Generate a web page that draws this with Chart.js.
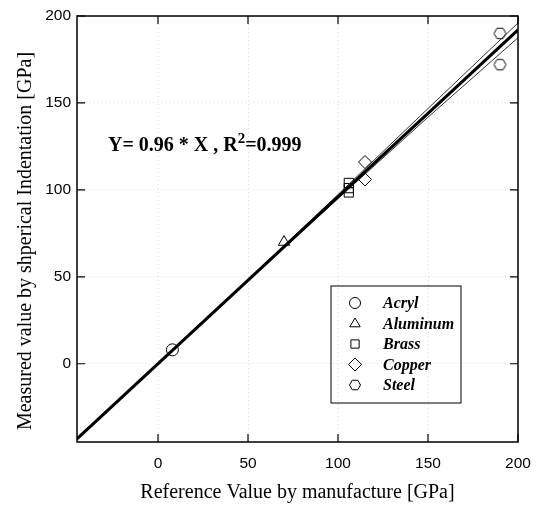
<!DOCTYPE html>
<html>
<head>
<meta charset="utf-8">
<script src="https://cdn.jsdelivr.net/npm/chart.js@4/dist/chart.umd.min.js"></script>
<style>
  html, body { margin: 0; padding: 0; background: #fff; }
</style>
</head>
<body>
<canvas id="chart" width="544" height="506"></canvas>
<script>
// axis setup
const axisMin = -45;
const axisMax = 200;
const xTicks = [0, 50, 100, 150, 200];
const yTicks = [0, 50, 100, 150, 200];

// measured points
const acrylX = [8];
const acrylY = [8];
const aluminumX = [70];
const aluminumY = [70];
const brassX = [106, 106, 106];
const brassY = [104, 101, 98.5];
const copperX = [115, 115];
const copperY = [116, 106];
const steelX = [190, 190];
const steelY = [190, 172];

// fit line and its two bands
const fitX = [-45, 200];
const fitY = [-43.2, 192];
const upperX = [-45, 0, 50, 100, 150, 200];
const upperY = [-43, 0.2, 48.4, 97.3, 146.8, 196];
const lowerX = [-45, 0, 50, 100, 150, 200];
const lowerY = [-43.4, -0.2, 47.6, 95, 141.8, 187.5];

const serif = '"Liberation Serif", "Times New Roman", serif';
const sans = '"Liberation Sans", Arial, sans-serif';

function pts(xs, ys) {
  return xs.map((x, i) => ({ x: x, y: ys[i] }));
}

// hexagon marker drawn onto a tiny canvas
function hexagonImage(r) {
  const c = document.createElement('canvas');
  const size = Math.ceil(r * 2 + 3);
  c.width = size;
  c.height = size;
  const g = c.getContext('2d');
  g.strokeStyle = '#000';
  g.lineWidth = 1;
  g.beginPath();
  for (let k = 0; k < 6; k++) {
    const a = Math.PI / 3 * k;
    const px = size / 2 + r * Math.cos(a);
    const py = size / 2 + r * Math.sin(a);
    if (k === 0) g.moveTo(px, py); else g.lineTo(px, py);
  }
  g.closePath();
  g.stroke();
  return c;
}
const hexImg = hexagonImage(6);

function markerSet(label, xs, ys, style, radius) {
  return {
    label: label,
    data: pts(xs, ys),
    pointStyle: style,
    pointRadius: radius,
    pointBorderColor: '#000',
    pointBackgroundColor: 'rgba(0,0,0,0)',
    pointBorderWidth: 1,
    showLine: false,
    isMarker: true
  };
}

function lineSet(label, xs, ys, width, color) {
  return {
    label: label,
    data: pts(xs, ys),
    showLine: true,
    borderColor: color,
    borderWidth: width,
    pointRadius: 0,
    pointHoverRadius: 0,
    isMarker: false
  };
}

// draws one legend marker the same way as on the plot
function drawMarker(ctx, style, x, y, r) {
  ctx.save();
  ctx.strokeStyle = '#000';
  ctx.lineWidth = 1;
  ctx.beginPath();
  if (style === 'circle') {
    ctx.arc(x, y, r, 0, Math.PI * 2);
  } else if (style === 'triangle') {
    ctx.moveTo(x, y - r);
    ctx.lineTo(x + r * 0.95, y + r * 0.6);
    ctx.lineTo(x - r * 0.95, y + r * 0.6);
    ctx.closePath();
  } else if (style === 'rect') {
    ctx.rect(x - r * 0.75, y - r * 0.75, r * 1.5, r * 1.5);
  } else if (style === 'rectRot') {
    ctx.moveTo(x, y - r);
    ctx.lineTo(x + r, y);
    ctx.lineTo(x, y + r);
    ctx.lineTo(x - r, y);
    ctx.closePath();
  } else {
    for (let k = 0; k < 6; k++) {
      const a = Math.PI / 3 * k;
      if (k === 0) ctx.moveTo(x + r * Math.cos(a), y + r * Math.sin(a));
      else ctx.lineTo(x + r * Math.cos(a), y + r * Math.sin(a));
    }
    ctx.closePath();
  }
  ctx.stroke();
  ctx.restore();
}

const framePlugin = {
  id: 'frame',
  afterDraw(chart) {
    const ctx = chart.ctx;
    const a = chart.chartArea;
    const xs = chart.scales.x;
    const ys = chart.scales.y;
    ctx.save();

    // plot frame
    ctx.strokeStyle = '#000';
    ctx.lineWidth = 1.5;
    ctx.strokeRect(a.left, a.top, a.right - a.left, a.bottom - a.top);

    // inward ticks on all four sides
    ctx.lineWidth = 1.2;
    ctx.beginPath();
    xTicks.forEach((v) => {
      const px = xs.getPixelForValue(v);
      ctx.moveTo(px, a.bottom); ctx.lineTo(px, a.bottom - 8);
      ctx.moveTo(px, a.top); ctx.lineTo(px, a.top + 8);
    });
    yTicks.forEach((v) => {
      const py = ys.getPixelForValue(v);
      ctx.moveTo(a.left, py); ctx.lineTo(a.left + 8, py);
      ctx.moveTo(a.right, py); ctx.lineTo(a.right - 8, py);
    });
    ctx.stroke();

    // axis titles
    ctx.fillStyle = '#000';
    ctx.font = '20px ' + serif;
    ctx.textAlign = 'center';
    ctx.textBaseline = 'middle';
    ctx.fillText('Reference Value by manufacture [GPa]', (a.left + a.right) / 2, 493);
    ctx.save();
    ctx.translate(26, 241);
    ctx.rotate(-Math.PI / 2);
    ctx.fillText('Measured value by shperical Indentation [GPa]', 0, 0);
    ctx.restore();

    // fit annotation
    ctx.textAlign = 'left';
    ctx.textBaseline = 'alphabetic';
    ctx.font = 'bold 20px ' + serif;
    let tx = 108;
    const ty = 151;
    const part1 = 'Y= 0.96 * X , R';
    ctx.fillText(part1, tx, ty);
    tx += ctx.measureText(part1).width;
    ctx.font = 'bold 15px ' + serif;
    ctx.fillText('2', tx, ty - 8);
    tx += ctx.measureText('2').width;
    ctx.font = 'bold 20px ' + serif;
    ctx.fillText('=0.999', tx, ty);

    // legend box
    ctx.lineWidth = 1;
    ctx.strokeRect(331, 286, 130, 117);
    ctx.font = 'italic bold 16px ' + serif;
    ctx.textBaseline = 'middle';
    const markers = chart.data.datasets.filter(d => d.isMarker);
    markers.forEach((d, i) => {
      const ry = 303 + i * 20.5;
      const st = d.pointStyle === hexImg ? 'hex' : d.pointStyle;
      drawMarker(ctx, st, 355, ry, st === 'rectRot' ? 6.5 : 5.5);
      ctx.fillText(d.label, 383, ry + 1);
    });

    ctx.restore();
  }
};

const datasets = [
  lineSet('fit', fitX, fitY, 3, '#000'),
  lineSet('upper', upperX, upperY, 1, '#333'),
  lineSet('lower', lowerX, lowerY, 1, '#333'),
  markerSet('Acryl', acrylX, acrylY, 'circle', 6),
  markerSet('Aluminum', aluminumX, aluminumY, 'triangle', 6.5),
  markerSet('Brass', brassX, brassY, 'rect', 6.5),
  markerSet('Copper', copperX, copperY, 'rectRot', 6.5),
  markerSet('Steel', steelX, steelY, hexImg, 6)
];

new Chart(document.getElementById('chart').getContext('2d'), {
  type: 'scatter',
  data: { datasets: datasets },
  options: {
    responsive: false,
    animation: false,
    devicePixelRatio: 1,
    layout: { padding: { left: 0, right: 26, top: 16, bottom: 0 } },
    plugins: {
      legend: { display: false },
      tooltip: { enabled: false }
    },
    scales: {
      x: {
        type: 'linear',
        min: axisMin,
        max: axisMax,
        afterBuildTicks: (s) => { s.ticks = xTicks.map(v => ({ value: v })); },
        afterFit: (s) => { s.height = 64; },
        grid: { color: 'rgba(0,0,0,0.13)', drawTicks: false },
        border: { display: false, dash: [1, 3] },
        ticks: { color: '#000', font: { family: sans, size: 15.5 }, padding: 12, maxRotation: 0 }
      },
      y: {
        type: 'linear',
        min: axisMin,
        max: axisMax,
        afterBuildTicks: (s) => { s.ticks = yTicks.map(v => ({ value: v })); },
        afterFit: (s) => { s.width = 77; },
        grid: { color: 'rgba(0,0,0,0.13)', drawTicks: false },
        border: { display: false, dash: [1, 3] },
        ticks: { color: '#000', font: { family: sans, size: 15.5 }, padding: 6 }
      }
    }
  },
  plugins: [framePlugin]
});
</script>
</body>
</html>
